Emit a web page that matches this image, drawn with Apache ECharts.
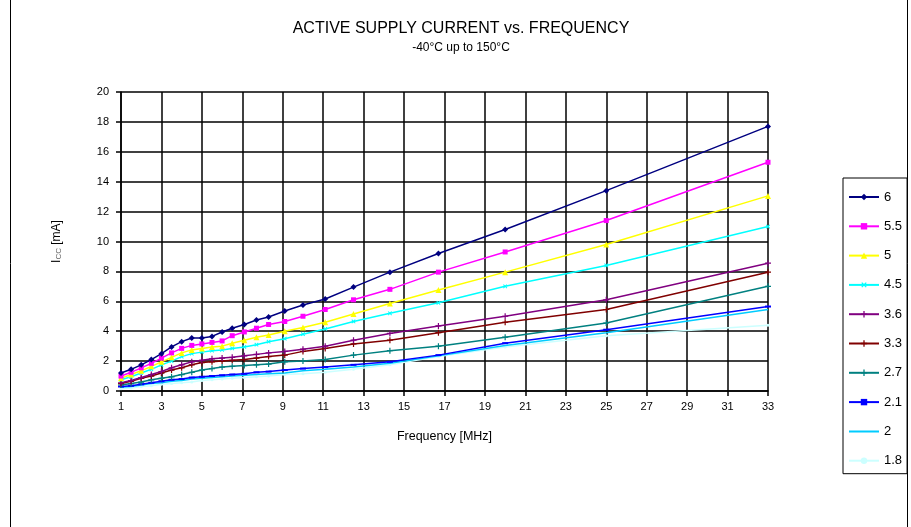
<!DOCTYPE html>
<html>
<head>
<meta charset="utf-8">
<script src="https://cdn.jsdelivr.net/npm/echarts@6/dist/echarts.min.js"></script>
<style>
html,body{margin:0;padding:0;background:#fff;}
#chart{width:911px;height:527px;}
</style>
</head>
<body>
<div id="chart"></div>
<script>
// ---- data ----
var freq = [1, 1.5, 2, 2.5, 3, 3.5, 4, 4.5, 5, 5.5, 6, 6.5, 7.1, 7.7, 8.3, 9.1, 10, 11.1, 12.5, 14.3, 16.7, 20, 25, 33];
var seriesNames = ['6', '5.5', '5', '4.5', '3.6', '3.3', '2.7', '2.1', '2', '1.8'];
var i60 = [1.2, 1.45, 1.75, 2.1, 2.5, 2.95, 3.3, 3.55, 3.55, 3.65, 3.95, 4.2, 4.45, 4.75, 4.95, 5.35, 5.75, 6.15, 6.95, 7.95, 9.2, 10.8, 13.4, 17.7];
var i55 = [1.0, 1.25, 1.55, 1.85, 2.2, 2.55, 2.85, 3.05, 3.15, 3.25, 3.35, 3.7, 3.95, 4.2, 4.45, 4.65, 5.0, 5.45, 6.1, 6.8, 7.95, 9.3, 11.4, 15.3];
var i50 = [0.85, 1.1, 1.35, 1.65, 1.95, 2.25, 2.55, 2.75, 2.85, 2.95, 3.0, 3.2, 3.4, 3.6, 3.75, 4.0, 4.25, 4.6, 5.15, 5.85, 6.75, 7.95, 9.8, 13.05];
var i45 = [0.75, 0.95, 1.2, 1.45, 1.75, 2.0, 2.3, 2.5, 2.6, 2.7, 2.75, 2.85, 2.95, 3.1, 3.3, 3.5, 3.8, 4.15, 4.65, 5.2, 5.9, 7.0, 8.4, 11.0];
var i36 = [0.55, 0.7, 0.9, 1.1, 1.3, 1.55, 1.75, 1.95, 2.05, 2.15, 2.2, 2.25, 2.35, 2.45, 2.55, 2.65, 2.8, 3.0, 3.4, 3.85, 4.35, 5.0, 6.1, 8.55];
var i33 = [0.5, 0.65, 0.85, 1.0, 1.2, 1.4, 1.55, 1.75, 1.9, 1.95, 2.0, 2.05, 2.1, 2.2, 2.3, 2.4, 2.65, 2.85, 3.15, 3.4, 3.9, 4.6, 5.45, 7.95];
var i27 = [0.4, 0.5, 0.6, 0.75, 0.85, 0.95, 1.1, 1.25, 1.4, 1.5, 1.6, 1.65, 1.7, 1.75, 1.8, 1.95, 2.0, 2.1, 2.4, 2.7, 3.0, 3.6, 4.55, 7.0];
var i21 = [0.3, 0.35, 0.45, 0.55, 0.65, 0.75, 0.8, 0.9, 0.95, 1.0, 1.05, 1.1, 1.15, 1.25, 1.3, 1.4, 1.5, 1.6, 1.75, 1.95, 2.4, 3.2, 4.1, 5.65];
var i20 = [0.25, 0.3, 0.4, 0.5, 0.55, 0.65, 0.7, 0.8, 0.85, 0.9, 0.95, 1.0, 1.05, 1.1, 1.15, 1.2, 1.35, 1.45, 1.6, 1.85, 2.35, 3.05, 3.9, 5.45];
var i18 = [0.15, 0.2, 0.3, 0.35, 0.45, 0.5, 0.55, 0.6, 0.7, 0.75, 0.8, 0.85, 0.9, 0.95, 1.0, 1.1, 1.15, 1.25, 1.45, 1.75, 2.3, 2.95, 3.7, 4.4];
var xTicks = [1, 3, 5, 7, 9, 11, 13, 15, 17, 19, 21, 23, 25, 27, 29, 31, 33];

// ---- styles ----
var FONT = '"Liberation Sans", Arial, sans-serif';
var colors = ['#000080', '#FF00FF', '#FFFF00', '#00FFFF', '#800080', '#800000', '#008080', '#0000FF', '#00CCFF', '#CCFFFF'];
var PLUS = 'path://M4,0H6V4H10V6H6V10H4V6H0V4H4Z';
var LINE_ONLY = 'path://M0,0H0.01V0.01H0Z M0,3.0H30V5.0H0Z M0,7.99H0.01V8H0Z';
var symbols = ['diamond', 'rect', 'triangle', PLUS, PLUS, PLUS, PLUS, 'rect', 'none', 'circle'];
var symbolSizes = [6, 5, 6, 5, 6, 6, 6, [6, 2], 0, 3];
var symbolRotates = [0, 0, 0, 45, 0, 0, 0, 0, 0, 0];
var values = [i60, i55, i50, i45, i36, i33, i27, i21, i20, i18];

function pairs(ys) { return freq.map(function (f, k) { return [f, ys[k]]; }); }

var series = seriesNames.map(function (name, k) {
  return {
    name: name,
    type: 'line',
    data: pairs(values[k]),
    symbol: symbols[k],
    symbolSize: symbolSizes[k],
    symbolRotate: symbolRotates[k],
    showSymbol: true,
    lineStyle: { color: colors[k], width: 1.5 },
    itemStyle: { color: colors[k] },
    z: 10 - k,
    animation: false
  };
});

var legendData = seriesNames.map(function (name, k) {
  return symbols[k] === 'none' ? { name: name, icon: LINE_ONLY, itemStyle: { color: colors[k] } } : { name: name };
});

var chart = echarts.init(document.getElementById('chart'), null, { renderer: 'canvas' });
chart.setOption({
  animation: false,
  backgroundColor: '#fff',
  textStyle: { fontFamily: FONT },
  graphic: [
    { type: 'rect', z: -10, shape: { x: 10.5, y: -5, width: 897, height: 540 }, style: { fill: 'none', stroke: '#000', lineWidth: 1 } },
    { type: 'text', x: 461, y: 29, style: { text: 'ACTIVE SUPPLY CURRENT vs. FREQUENCY', font: '16px ' + FONT, fill: '#000', align: 'center', verticalAlign: 'middle' } },
    { type: 'text', x: 461, y: 48, style: { text: '-40°C up to 150°C', font: '12px ' + FONT, fill: '#000', align: 'center', verticalAlign: 'middle' } }
  ],
  grid: { left: 121, right: 143, top: 92, bottom: 136, containLabel: false },
  legend: {
    orient: 'vertical',
    left: 843,
    top: 178,
    padding: [12, 5, 6, 5],
    itemGap: 15.3,
    itemWidth: 30,
    itemHeight: 8,
    borderColor: '#000',
    borderWidth: 1,
    textStyle: { fontSize: 13, color: '#000', fontFamily: FONT, lineHeight: 14 },
    data: legendData
  },
  xAxis: {
    type: 'value',
    min: 1,
    max: 33,
    name: 'Frequency [MHz]',
    nameLocation: 'middle',
    nameGap: 39,
    nameTextStyle: { fontSize: 12.5, color: '#000', fontFamily: FONT },
    axisLine: { show: true, lineStyle: { color: '#000', width: 1.5 } },
    axisTick: { show: true, customValues: xTicks, length: 5, lineStyle: { color: '#000', width: 1.5 } },
    axisLabel: { customValues: xTicks, fontSize: 11, color: '#000', margin: 10, fontFamily: FONT },
    splitLine: { show: true, lineStyle: { color: '#000', width: 1.5 } }
  },
  yAxis: {
    type: 'value',
    min: 0,
    max: 20,
    interval: 2,
    name: '{m|I}{s|CC}{m| [mA]}',
    nameLocation: 'middle',
    nameGap: 58,
    nameRotate: 90,
    nameTextStyle: {
      color: '#000',
      rich: {
        m: { fontSize: 12, fontFamily: FONT, color: '#000', lineHeight: 15, verticalAlign: 'bottom' },
        s: { fontSize: 8, fontFamily: FONT, color: '#666', lineHeight: 15, verticalAlign: 'bottom', padding: [4, 0, 0, 0] }
      }
    },
    axisLine: { show: true, lineStyle: { color: '#000', width: 1.5 } },
    axisTick: { show: true, length: 5, lineStyle: { color: '#000', width: 1.5 } },
    axisLabel: { fontSize: 11, color: '#000', margin: 12, fontFamily: FONT },
    splitLine: { show: true, lineStyle: { color: '#000', width: 1.5 } }
  },
  series: series
});
</script>
</body>
</html>
